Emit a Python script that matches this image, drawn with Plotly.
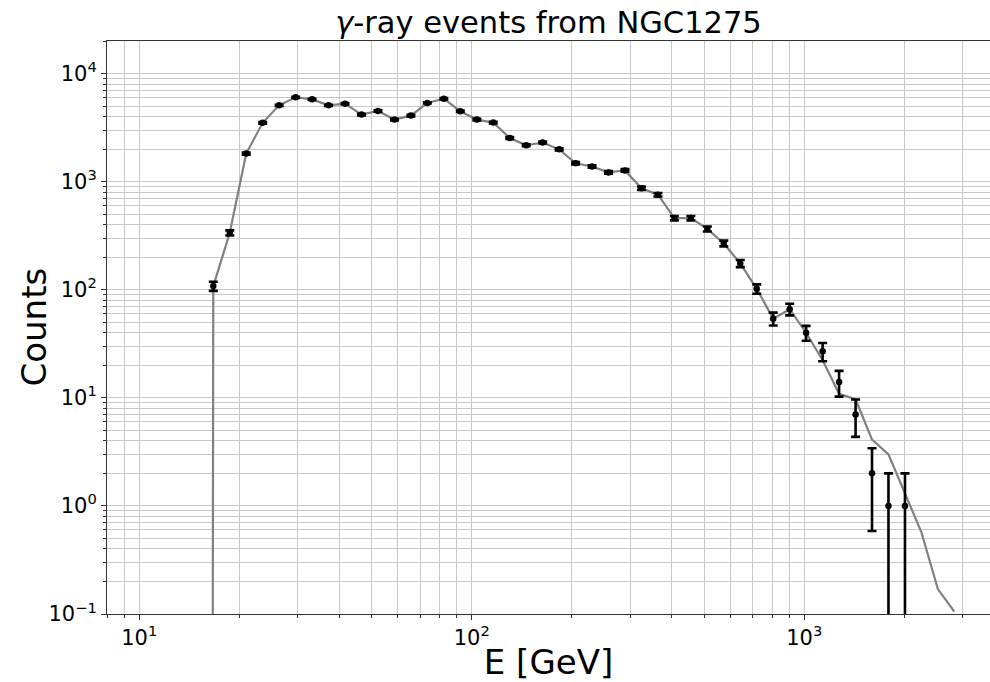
import numpy as np
import plotly.graph_objects as go

# Bin centres (GeV) of the measured spectrum
energy_gev = [16.70, 18.72, 20.98, 23.51, 26.35, 29.54, 33.10, 37.10, 41.59, 46.61,
              52.24, 58.55, 65.62, 73.55, 82.44, 92.39, 103.6, 116.1, 130.1, 145.8,
              163.4, 183.2, 205.3, 230.1, 257.9, 289.0, 323.9, 363.1, 406.9, 456.1,
              511.2, 572.9, 642.1, 719.7, 806.6, 904.1, 1013, 1136, 1273, 1427,
              1599, 1792, 2009]

# Observed event counts per bin
counts = [108, 336, 1820, 3500, 5080, 6030, 5770, 5080, 5260, 4170,
          4510, 3750, 4080, 5350, 5850, 4480, 3750, 3520, 2530, 2170,
          2300, 1990, 1480, 1380, 1217, 1270, 869, 757, 460, 460,
          365, 268, 175, 102, 54, 66, 40, 27, 14, 7,
          2, 1, 1]

# Expected counts (one empty bin below threshold, three bins above the data)
model_energy = [14.90] + energy_gev + [2251, 2523, 2828]
model_counts = [0, 108, 336, 1820, 3500, 5080, 6030, 5770, 5080, 5260, 4170,
                4510, 3750, 4080, 5350, 5850, 4480, 3750, 3520, 2530, 2170,
                2300, 1990, 1480, 1380, 1217, 1270, 869, 757, 460, 460,
                365, 268, 175, 102, 54, 66, 40, 22.3, 10.9, 9.7,
                4.1, 3.0, 1.29, 0.57, 0.17, 0.105]

# Poisson uncertainties
count_err = np.sqrt(np.array(counts, dtype=float))

# Non-positive values are clipped to a tiny floor so the curve drops off the log axis
model_plot = np.clip(np.array(model_counts, dtype=float), 1e-100, None)

FONT = "DejaVu Sans"
GRID = "#c8c8c8"
AXC = "#333333"
PLOT_LEFT, PLOT_WIDTH = 107, 883

fig = go.Figure()
fig.add_trace(go.Scatter(
    x=model_energy, y=model_plot, mode="lines",
    line=dict(color="#808080", width=2.2), showlegend=False, hoverinfo="skip"))
fig.add_trace(go.Scatter(
    x=energy_gev, y=counts, mode="markers",
    marker=dict(color="black", size=6.5),
    error_y=dict(type="data", array=count_err, visible=True,
                 color="black", thickness=2.6, width=4.5),
    showlegend=False))

x_major = [10, 100, 1000]
x_major_text = ["10<sup>1</sup>", "10<sup>2</sup>", "10<sup>3</sup>"]
x_minor = [m * 10 ** k for k in range(0, 4) for m in range(2, 10)]
y_major = [0.1, 1, 10, 100, 1000, 10000]
y_major_text = ["10<sup>\u22121</sup>", "10<sup>0</sup>", "10<sup>1</sup>",
                "10<sup>2</sup>", "10<sup>3</sup>", "10<sup>4</sup>"]
y_minor = [m * 10 ** k for k in range(-1, 5) for m in range(2, 10)]

axis_common = dict(
    type="log", showline=True, linecolor=AXC, linewidth=1,
    ticks="outside", ticklen=5, tickwidth=1, tickcolor=AXC,
    showgrid=True, gridcolor=GRID, gridwidth=1, zeroline=False,
    tickfont=dict(family=FONT, size=21, color="black"),
)

fig.update_xaxes(
    **axis_common, mirror=True,
    range=[np.log10(8), 3.5587],
    tickmode="array", tickvals=x_major, ticktext=x_major_text,
    minor=dict(tickmode="array", tickvals=x_minor, ticks="outside", ticklen=3,
               tickcolor=AXC, showgrid=True, gridcolor=GRID, gridwidth=1),
    title=dict(text="E [GeV]", font=dict(family=FONT, size=34, color="black"),
               standoff=8),
)
fig.update_yaxes(
    **axis_common, mirror=False,
    range=[-1, np.log10(2e4)],
    tickmode="array", tickvals=y_major, ticktext=y_major_text,
    minor=dict(tickmode="array", tickvals=y_minor, ticks="outside", ticklen=3,
               tickcolor=AXC, showgrid=True, gridcolor=GRID, gridwidth=1),
)

# Vertical axis label, placed just left of the tick labels
fig.add_annotation(
    text="Counts", textangle=-90, showarrow=False,
    xref="paper", yref="paper",
    x=(33 - PLOT_LEFT) / PLOT_WIDTH, y=0.5,
    xanchor="center", yanchor="middle",
    font=dict(family=FONT, size=34, color="black"),
)

fig.update_layout(
    width=990, height=682,
    margin=dict(l=PLOT_LEFT, r=0, t=41, b=63),
    paper_bgcolor="white", plot_bgcolor="white",
    font=dict(family=FONT, color="black"),
    title=dict(text="<i>\u03b3</i>-ray events from NGC1275",
               font=dict(family=FONT, size=30.5, color="black"),
               x=0.5, xref="paper", xanchor="center",
               y=1 - 22.5 / 682, yref="container", yanchor="middle"),
)

fig.write_html("out.html")
